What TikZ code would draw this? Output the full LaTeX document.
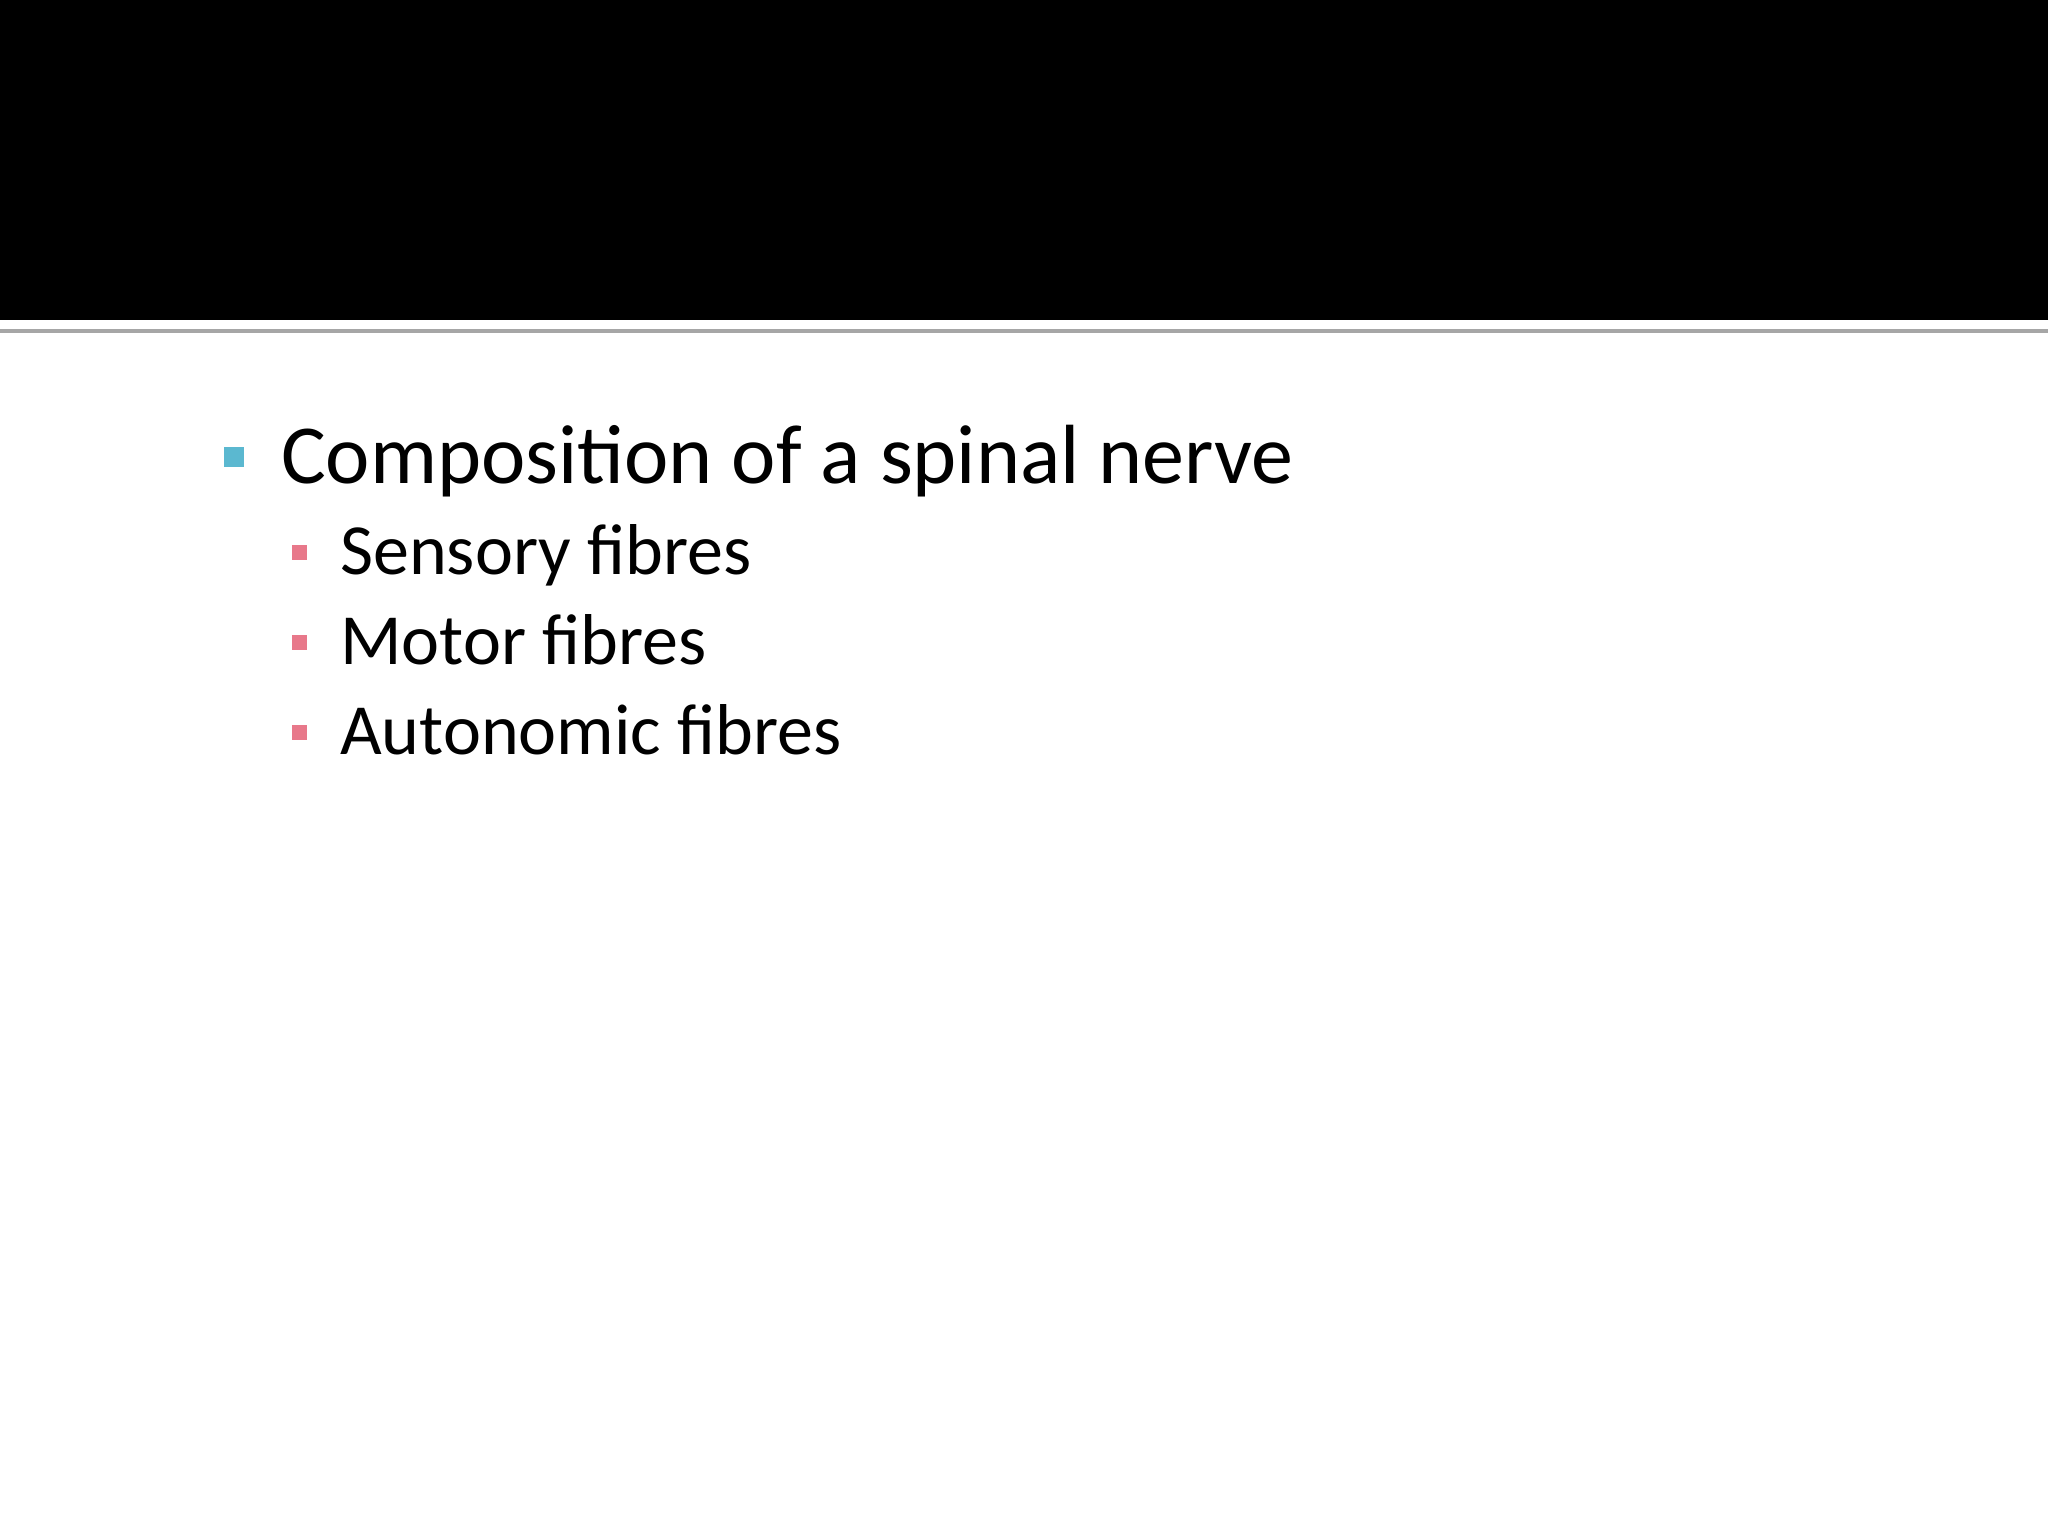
\documentclass[tikz,border=0pt]{standalone}
\usepackage{fontspec}
\setmainfont{Carlito}
\definecolor{bulblue}{HTML}{5BB8D0}
\definecolor{bulpink}{HTML}{E8788A}
\begin{document}
\begin{tikzpicture}[x=1pt,y=-1pt,
  lvlone/.style={anchor=base west,inner sep=0pt,font=\fontsize{84}{90}\selectfont},
  lvltwo/.style={anchor=base west,inner sep=0pt,font=\fontsize{72}{80}\selectfont}]
\useasboundingbox (0,0) rectangle (2048,1536);
\fill[white] (0,0) rectangle (2048,1536);
\fill[black] (0,0) rectangle (2048,320);
\fill[gray!70] (0,329) rectangle (2048,333);
\fill[bulblue] (224,447) rectangle (244,467);
\node[lvlone] (t1) at (281,483) {Composition of a spinal nerve};
\fill[bulpink] (292,545) rectangle (307,560);
\node[lvltwo] (t2) at (340,574) {Sensory fibres};
\fill[bulpink] (292,635) rectangle (307,650);
\node[lvltwo] (t3) at (340,664) {Motor fibres};
\fill[bulpink] (292,725) rectangle (307,740);
\node[lvltwo] (t4) at (340,754) {Autonomic fibres};
\end{tikzpicture}
\end{document}
